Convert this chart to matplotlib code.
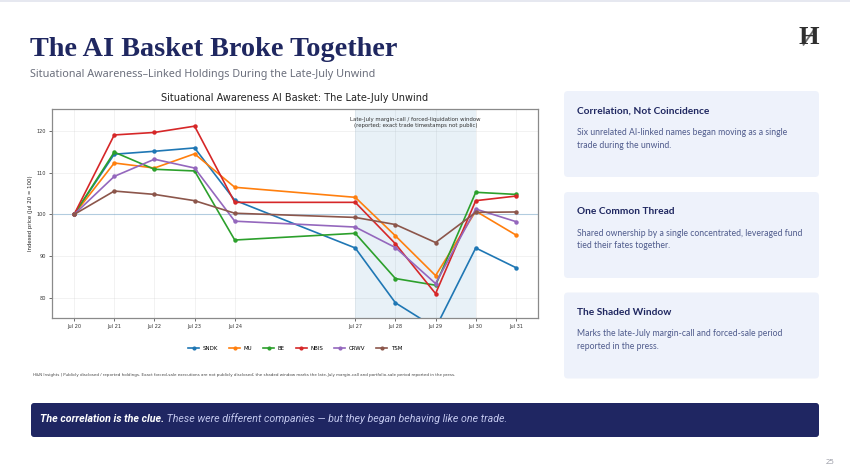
import matplotlib
matplotlib.use("Agg")
import matplotlib.pyplot as plt
import matplotlib.dates as mdates
from matplotlib.patches import FancyBboxPatch, Rectangle
import pandas as pd

# ---------------- data ----------------
dates = ["2026-07-20", "2026-07-21", "2026-07-22", "2026-07-23", "2026-07-24",
         "2026-07-27", "2026-07-28", "2026-07-29", "2026-07-30", "2026-07-31"]
tickers = ["SNDK", "MU", "BE", "NBIS", "CRWV", "TSM"]
sndk = [100, 114.4, 115.1, 115.9, 103.4, 92.0, 78.9, 72.9, 92.0, 87.3]
mu   = [100, 112.3, 111.1, 114.5, 106.5, 104.1, 94.9, 85.4, 100.8, 95.1]
be   = [100, 114.9, 110.8, 110.4, 93.9, 95.5, 84.7, 83.1, 105.3, 104.8]
nbis = [100, 119.0, 119.6, 121.1, 102.9, 102.9, 93.0, 81.1, 103.3, 104.4]
crwv = [100, 109.1, 113.2, 111.1, 98.4, 97.0, 92.1, 83.5, 101.3, 98.3]
tsm  = [100, 105.6, 104.8, 103.3, 100.3, 99.3, 97.6, 93.3, 100.5, 100.6]
series = [sndk, mu, be, nbis, crwv, tsm]
window_start, window_end = "2026-07-27", "2026-07-30"
yticks = [80, 90, 100, 110, 120]

title = "The AI Basket Broke Together"
subtitle = "Situational Awareness\u2013Linked Holdings During the Late-July Unwind"
chart_title = "Situational Awareness AI Basket: The Late-July Unwind"
window_note = "Late-July margin-call / forced-liquidation window\n(reported; exact trade timestamps not public)"
footnote = ("H&N Insights | Publicly disclosed / reported holdings. Exact forced-sale executions are not "
            "publicly disclosed; the shaded window marks the late-July margin-call and portfolio-sale period reported in the press.")
cards = [
    ("Correlation, Not Coincidence",
     ["Six unrelated AI-linked names began moving as a single", "trade during the unwind."]),
    ("One Common Thread",
     ["Shared ownership by a single concentrated, leveraged fund", "tied their fates together."]),
    ("The Shaded Window",
     ["Marks the late-July margin-call and forced-sale period", "reported in the press."]),
]
banner_bold = "The correlation is the clue."
banner_rest = " These were different companies \u2014 but they began behaving like one trade."
page_no = "25"

# ---------------- figure ----------------
W, H = 850, 476
fig = plt.figure(figsize=(W / 100, H / 100), dpi=100)
fig.patch.set_facecolor("white")

pg = fig.add_axes([0, 0, 1, 1], zorder=0)
pg.set_xlim(0, W)
pg.set_ylim(H, 0)
pg.axis("off")

NAVY = "#1f2760"
pg.add_patch(Rectangle((0, 0), W, 2, color="#e6e8f0", lw=0))

pg.text(30, 55.5, title, fontsize=20.3, fontweight="bold", family="Liberation Serif",
        color=NAVY, va="baseline", ha="left")
pg.text(30, 74, subtitle, fontsize=7.8, family="Noto Sans", color="#6b6f7c",
        va="center", ha="left")

# logo
pg.text(808.5, 38, "H", fontsize=19, fontweight="bold", family="Liberation Serif",
        color="#2f2f2f", ha="center", va="center")
pg.plot([803, 814.5], [45.5, 29], color="#6f6f6f", lw=1.3, solid_capstyle="butt")

# cards
card_tops = [91, 192, 292.5]
for (head, body), top in zip(cards, card_tops):
    pg.add_patch(FancyBboxPatch((564 + 3, top + 3), 255 - 6, 86 - 6,
                                boxstyle="round,pad=3,rounding_size=4",
                                fc="#eef2fb", ec="none"))
    pg.text(577, top + 20, head, fontsize=7.3, fontweight="bold", family="Lato",
            color=NAVY, va="center", ha="left")
    for i, line in enumerate(body):
        pg.text(577, top + 41.5 + 12.5 * i, line, fontsize=6.2, family="Lato",
                color="#4f5b8c", va="center", ha="left")

# banner
pg.add_patch(FancyBboxPatch((31 + 3, 403 + 3), 788 - 6, 34 - 6,
                            boxstyle="round,pad=3,rounding_size=3",
                            fc="#1f2662", ec="none"))
t1 = pg.text(40, 419, banner_bold, fontsize=7.7, fontweight="bold", style="italic",
             family="Roboto", color="white", va="center", ha="left")
fig.canvas.draw()
bb = t1.get_window_extent()
pg.text(bb.x1, 419, banner_rest, fontsize=7.7, style="italic", family="Roboto",
        color="#c3c8ee", va="center", ha="left")

pg.text(834, 463, page_no, fontsize=5.5, family="Noto Sans", color="#9a9ca6",
        ha="right", va="center")

# ---------------- chart ----------------
ax = fig.add_axes([52 / W, 1 - 318.3 / H, (538 - 52) / W, (318.3 - 109) / H], zorder=2)
x = pd.to_datetime(dates)
colors = ["#1f77b4", "#ff7f0e", "#2ca02c", "#d62728", "#9467bd", "#8c564b"]
ax.axvspan(pd.Timestamp(window_start), pd.Timestamp(window_end),
           color="#1f77b4", alpha=0.1, lw=0)
ax.axhline(100, color="#1f77b4", alpha=0.3, lw=0.8)
for name, vals, c in zip(tickers, series, colors):
    ax.plot(x, vals, color=c, lw=1.2, marker="o", ms=2.2, label=name)

ax.set_ylim(75.2, 125.2)
ax.set_yticks(yticks)
ax.set_xticks(x)
ax.xaxis.set_major_formatter(mdates.DateFormatter("%b %d"))
ax.tick_params(labelsize=3.6, length=2, width=0.5, colors="#333333", pad=2)
ax.grid(True, color="#cccccc", alpha=0.35, lw=0.5)
ax.set_axisbelow(True)
for s in ax.spines.values():
    s.set_color("#8a8a8a")
    s.set_linewidth(0.9)
ax.set_ylabel("Indexed price (Jul 20 = 100)", fontsize=3.9, color="#222222", labelpad=3)
ax.set_title(chart_title, fontsize=7, color="#222222", pad=6)

mid = pd.Timestamp(window_start) + (pd.Timestamp(window_end) - pd.Timestamp(window_start)) / 2
ax.text(mid, 0.96, window_note, transform=ax.get_xaxis_transform(), ha="center", va="top",
        fontsize=3.85, color="#333333", linespacing=1.25)

ax.legend(loc="upper center", bbox_to_anchor=(0.5, -0.11), ncol=6, frameon=False,
          fontsize=4.0, handlelength=2.0, columnspacing=2.0, handletextpad=0.6,
          markerscale=0.9)

pg.text(33, 375.3, footnote, fontsize=2.92, family="DejaVu Sans", color="#444444",
        va="center", ha="left")

fig.savefig("out.png", dpi=100, facecolor="white")
